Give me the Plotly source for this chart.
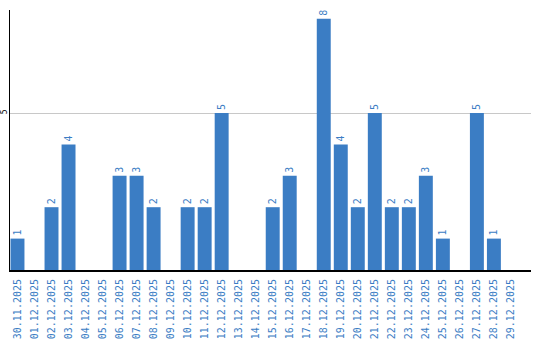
import plotly.graph_objects as go

dates = ["30.11.2025","01.12.2025","02.12.2025","03.12.2025","04.12.2025","05.12.2025",
         "06.12.2025","07.12.2025","08.12.2025","09.12.2025","10.12.2025","11.12.2025",
         "12.12.2025","13.12.2025","14.12.2025","15.12.2025","16.12.2025","17.12.2025",
         "18.12.2025","19.12.2025","20.12.2025","21.12.2025","22.12.2025","23.12.2025",
         "24.12.2025","25.12.2025","26.12.2025","27.12.2025","28.12.2025","29.12.2025"]
values = [1,0,2,4,0,0,3,3,2,0,2,2,5,0,0,2,3,0,8,4,2,5,2,2,3,1,0,5,1,0]
labels = [str(v) if v > 0 else "" for v in values]

blue = "#3b7dc4"
fig = go.Figure(go.Bar(
    x=dates, y=values, text=labels, textposition="outside",
    textangle=-90, cliponaxis=False,
    textfont=dict(color=blue, size=10, family="DejaVu Sans Mono"),
    marker=dict(color=blue, line=dict(width=0)),
))
fig.update_layout(
    width=540, height=340, margin=dict(l=10, r=9, t=10, b=70),
    plot_bgcolor="white", paper_bgcolor="white", bargap=0.18, showlegend=False,
)
fig.update_xaxes(type="category", tickangle=-90, showline=True, linecolor="black", linewidth=2,
                 tickfont=dict(color=blue, size=10, family="DejaVu Sans Mono"),
                 ticks="", showgrid=False, automargin=False, range=[-0.44, 30.18],
                 ticklabelstandoff=3)
fig.update_yaxes(range=[0, 8.28], tickvals=[5], ticktext=["5"], tickangle=-90,
                 showline=True, linecolor="black", linewidth=1, gridcolor="#c8c8c8",
                 tickfont=dict(color="black", size=8, family="DejaVu Sans Mono"),
                 ticks="", zeroline=False, automargin=False, ticklabelstandoff=-1)
fig.write_html("out.html")
